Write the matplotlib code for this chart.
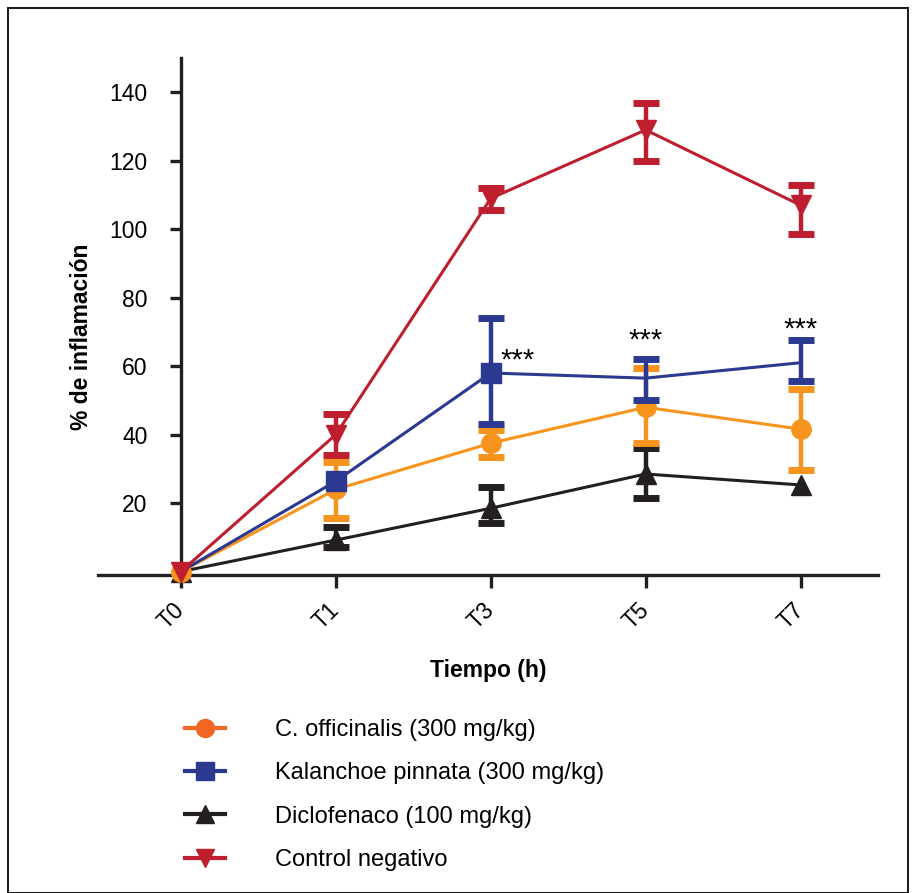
import matplotlib.pyplot as plt
from matplotlib.lines import Line2D
from matplotlib.patches import Rectangle

plt.rcParams["font.family"] = ["Liberation Sans", "DejaVu Sans"]

times = ["T0", "T1", "T3", "T5", "T7"]

# None = no error bar visible in the original
calendula = [0, 24, 37.5, 48, 41.6]
calendula_low = [None, 15.6, 33.5, 37.5, 29.6]
calendula_high = [None, 32, 41.3, 59.4, 53.3]

kalanchoe = [0, 26.4, 58, 56.5, 61]
kalanchoe_low = [None, None, 43, 50, 55.6]
kalanchoe_high = [None, None, 74, 62, 67.5]

diclofenaco = [0, 9.2, 18.5, 28.5, 25.3]
diclofenaco_low = [None, 7.2, 14.2, 21.5, None]
diclofenaco_high = [None, 13, 24.7, 36, None]

control = [0, 40, 109, 129, 107]
control_low = [None, 34, 105.5, 120, 98.5]
control_high = [None, 46, 112, 137, 113]

stars_at = [2, 3, 4]
stars_y = [57.5, 63.5, 66.5]
stars_dx = [0.17, 0, 0]

orange = "#f7941d"
blue = "#2b3990"
black = "#231f20"
red = "#be1e2d"

fig = plt.figure(figsize=(9.13, 8.93), dpi=100)
ax = fig.add_axes([98 / 913, 1 - 575 / 893, 780 / 913, 517 / 893])

x = list(range(len(times)))


def draw_series(values, low, high, color, marker, size, z, every=None):
    nan = float("nan")
    lo = [v - l if l is not None else nan for v, l in zip(values, low)]
    hi = [h - v if h is not None else nan for v, h in zip(values, high)]
    ax.errorbar(x, values, yerr=[lo, hi], color=color, lw=2.2, elinewidth=3.2,
                capsize=9.5, capthick=5, marker=marker, markersize=size,
                markevery=every, zorder=z, clip_on=False)


# Draw series in the same stacking order as the original figure
draw_series(diclofenaco, diclofenaco_low, diclofenaco_high, black, "^", 14, 3)
draw_series(calendula, calendula_low, calendula_high, orange, "o", 14, 4)
draw_series(kalanchoe, kalanchoe_low, kalanchoe_high, blue, "s", 15, 5, every=[1, 2])
draw_series(control, control_low, control_high, red, "v", 14, 6)

for i, yv, dx in zip(stars_at, stars_y, stars_dx):
    ax.text(i + dx, yv, "***", ha="center", va="bottom", fontsize=21, zorder=7)

ax.set_xlim(-0.535, 4.5)
ax.set_ylim(-1, 150)
ax.spines["left"].set_position(("data", 0))
ax.spines["top"].set_visible(False)
ax.spines["right"].set_visible(False)
for s in ["left", "bottom"]:
    ax.spines[s].set_linewidth(2.4)
    ax.spines[s].set_color(black)

ax.set_xticks(x)
ax.set_xticklabels(times, rotation=45, ha="right", va="center", rotation_mode="anchor")
ax.set_yticks([20, 40, 60, 80, 100, 120, 140])
ax.tick_params(axis="both", width=2.4, labelsize=16.5, color=black)
ax.tick_params(axis="y", length=8, pad=16)
ax.tick_params(axis="x", length=9, pad=14)

ax.set_xlabel("Tiempo (h)", fontsize=16.5, fontweight="bold", labelpad=18)
ax.set_ylabel("% de inflamación", fontsize=16.5, fontweight="bold")
ax.yaxis.set_label_coords(-5 / 780, 0.46)

# Legend below the plot
handles = [
    Line2D([], [], color="#f26522", lw=3, marker="o", markersize=13),
    Line2D([], [], color=blue, lw=3, marker="s", markersize=13),
    Line2D([], [], color=black, lw=3, marker="^", markersize=13),
    Line2D([], [], color=red, lw=3, marker="v", markersize=13),
]
labels = ["C. officinalis (300 mg/kg)", "Kalanchoe pinnata (300 mg/kg)",
          "Diclofenaco (100 mg/kg)", "Control negativo"]
fig.legend(handles, labels, loc="upper left", bbox_to_anchor=(164 / 913, 1 - 698 / 893),
           frameon=False, fontsize=17, handlelength=1.7, handletextpad=2.1,
           labelspacing=0.9)

# Outer frame around the whole figure
fig.patches.append(Rectangle((8 / 913, 0), 900 / 913, 1 - 8 / 893, transform=fig.transFigure,
                             fill=False, edgecolor=black, lw=1.5))

plt.savefig("out.png", dpi=100)
